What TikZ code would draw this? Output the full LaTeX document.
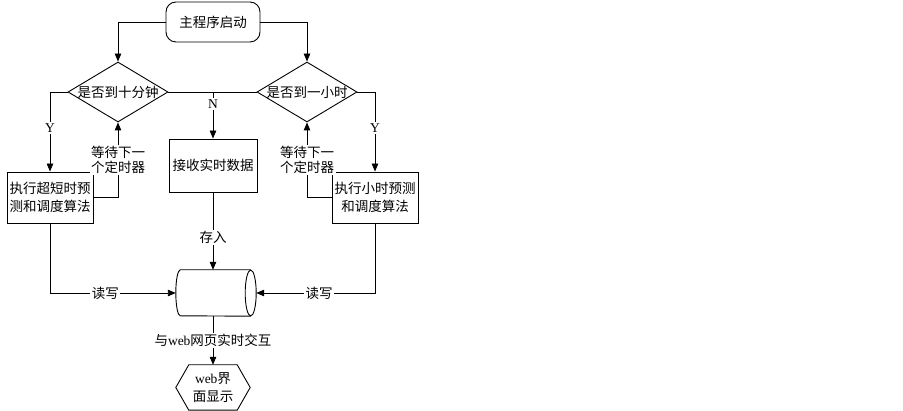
\documentclass[tikz,border=0pt]{standalone}
\usepackage{fontspec}
\setmainfont{Liberation Serif}
\newfontfamily\cjk{Noto Sans CJK SC}
\usetikzlibrary{shapes.geometric,arrows.meta}
\begin{document}
\begin{tikzpicture}[x=1pt,y=-1pt,
  every node/.style={font=\cjk\fontsize{13.5}{18}\selectfont, inner sep=0pt},
  line/.style={draw, line width=0.9pt},
  arr/.style={line, -{Triangle[length=8pt,width=6.5pt]}},
  box/.style={draw, line width=0.9pt, rectangle, align=center},
  dia/.style={draw, line width=0.9pt, diamond, minimum width=100pt, minimum height=60pt},
  lbl/.style={fill=white, inner sep=1.5pt, align=center},
  waitlbl/.style={lbl, font=\cjk\fontsize{13.5}{15}\selectfont}]
\useasboundingbox[fill=white] (0,0) rectangle (903,411);

\node[box, rounded corners=10pt, minimum width=94pt, minimum height=40pt] (start) at (213,22) {主程序启动};
\node[dia] (d1) at (118,92) {};
\node (t1) at (118,92) {是否到十分钟};
\node[dia] (d2) at (307,92) {};
\node (t2) at (307,92) {是否到一小时};
\node[box, minimum width=86pt, minimum height=51pt] (b1) at (50,197.5) {执行超短时预\\测和调度算法};
\node[box, minimum width=88pt, minimum height=53pt] (b2) at (213,165.5) {接收实时数据};
\node[box, minimum width=86pt, minimum height=51pt] (b3) at (375,197.5) {执行小时预测\\和调度算法};
% database cylinder (horizontal)
\node[minimum width=80pt, minimum height=46pt] (db) at (216,293) {};
\draw[line] ([xshift=-5.5pt]db.north east) -- ([xshift=4.5pt]db.north west)
  arc[start angle=90, end angle=270, x radius=4.5pt, y radius=23pt]
  -- ([xshift=-5.5pt]db.south east);
\draw[line] ([xshift=-5.5pt]db.east) ellipse [x radius=5.5pt, y radius=23pt];
% hexagon
\node[minimum width=74pt, minimum height=45pt, align=center] (hex) at (213,387.5) {{\rmfamily web}界\\面显示};
\draw[line] ([xshift=13pt]hex.north west) -- ([xshift=-13pt]hex.north east) -- (hex.east) -- ([xshift=-13pt]hex.south east) -- ([xshift=13pt]hex.south west) -- (hex.west) -- cycle;

\draw[arr] (start.west) -| (d1.north);
\draw[arr] (start.east) -| (d2.north);
\draw[line] (d1.east) -- (d2.west);
\draw[arr] (b2.north |- d1.east) -- node[lbl, pos=0.25]{\rmfamily N} (b2.north);
\draw[arr] (d1.west) -| node[lbl, pos=0.725]{\rmfamily Y} (b1.north);
\draw[arr] (d2.east) -| node[lbl, pos=0.725]{\rmfamily Y} (b3.north);
\draw[arr] (b1.east) -| node[waitlbl, pos=0.75]{等待下一\\个定时器} (d1.south);
\draw[arr] (b3.west) -| node[waitlbl, pos=0.75]{等待下一\\个定时器} (d2.south);
\draw[arr] (b2.south) -- node[lbl, pos=0.58]{存入} (b2.south |- db.north);
\draw[arr] (b1.south) |- node[lbl, pos=0.72]{读写} (db.west);
\draw[arr] (b3.south) |- node[lbl, pos=0.735]{读写} (db.east);
\draw[arr] (hex.north |- db.south) -- node[lbl]{与{\rmfamily web}网页实时交互} (hex.north);
\end{tikzpicture}
\end{document}
